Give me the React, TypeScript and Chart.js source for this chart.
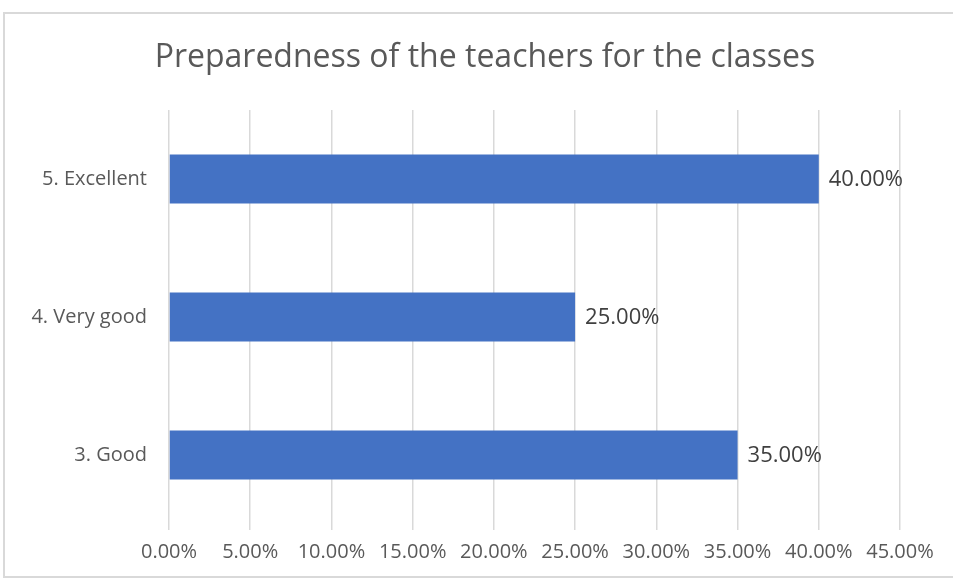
import React, { useEffect, useRef } from "react";
import { Chart, registerables } from "chart.js";

Chart.register(...registerables);

const categories = ["5. Excellent", "4. Very good", "3. Good"];
const values = [40, 25, 35];
const chartTitle = "Preparedness of the teachers for the classes";
const xMax = 45;
const xStep = 5;

const FONT = "'Open Sans', 'Noto Sans', sans-serif";

const dataLabelPlugin = {
  id: "dataLabels",
  afterDatasetsDraw(chart: any) {
    const ctx = chart.ctx;
    const meta = chart.getDatasetMeta(0);
    ctx.save();
    ctx.font = `22px ${FONT}`;
    ctx.fillStyle = "#404040";
    ctx.textAlign = "left";
    ctx.textBaseline = "middle";
    meta.data.forEach((bar: any, i: number) => {
      const v = chart.data.datasets[0].data[i] as number;
      ctx.fillText(v.toFixed(2) + "%", bar.x + 10, bar.y + 1);
    });
    ctx.restore();
  },
};

const titlePlugin = {
  id: "customTitle",
  afterDraw(chart: any) {
    const ctx = chart.ctx;
    ctx.save();
    ctx.font = `32px ${FONT}`;
    ctx.fillStyle = "#595959";
    ctx.textAlign = "center";
    ctx.textBaseline = "middle";
    ctx.fillText(chartTitle, 485, 58);
    ctx.restore();
  },
};

export default function App() {
  const ref = useRef<HTMLCanvasElement>(null);
  useEffect(() => {
    document.body.style.margin = "0";
    const chart = new Chart(ref.current!, {
      type: "bar",
      data: {
        labels: categories,
        datasets: [
          {
            data: values,
            backgroundColor: "#4472C4",
            barPercentage: 0.355,
            categoryPercentage: 1,
          } as any,
        ],
      },
      options: {
        indexAxis: "y",
        animation: false,
        responsive: false,
        layout: { padding: { left: 0, right: 53, top: 110, bottom: 0 } },
        plugins: {
          legend: { display: false },
          tooltip: { enabled: false },
          title: { display: false },
        },
        scales: {
          x: {
            min: 0,
            max: xMax,
            ticks: {
              stepSize: xStep,
              color: "#595959",
              font: { family: FONT, size: 20 },
              padding: 10,
              autoSkip: false,
              maxRotation: 0,
              callback: (v: any) => Number(v).toFixed(2) + "%",
            },
            grid: { color: "#d9d9d9", lineWidth: 1.5, tickLength: 6, drawTicks: true },
            border: { display: false },
            afterFit: (s: any) => {
              s.height = 56;
            },
          },
          y: {
            ticks: {
              color: "#595959",
              font: { family: FONT, size: 20 },
              padding: 22,
            },
            grid: { display: false, drawTicks: false },
            border: { display: false },
            afterFit: (s: any) => {
              s.width = 169;
            },
          },
        },
      },
      plugins: [dataLabelPlugin, titlePlugin],
    });
    return () => chart.destroy();
  }, []);
  return (
    <div style={{ position: "relative", width: 953, height: 580, background: "#fff" }}>
      <div
        style={{
          position: "absolute",
          left: 3,
          top: 12,
          width: 960,
          height: 566,
          border: "2px solid #d9d9d9",
          boxSizing: "border-box",
        }}
      />
      <canvas ref={ref} width={953} height={580} style={{ position: "absolute", left: 0, top: 0 }} />
    </div>
  );
}
